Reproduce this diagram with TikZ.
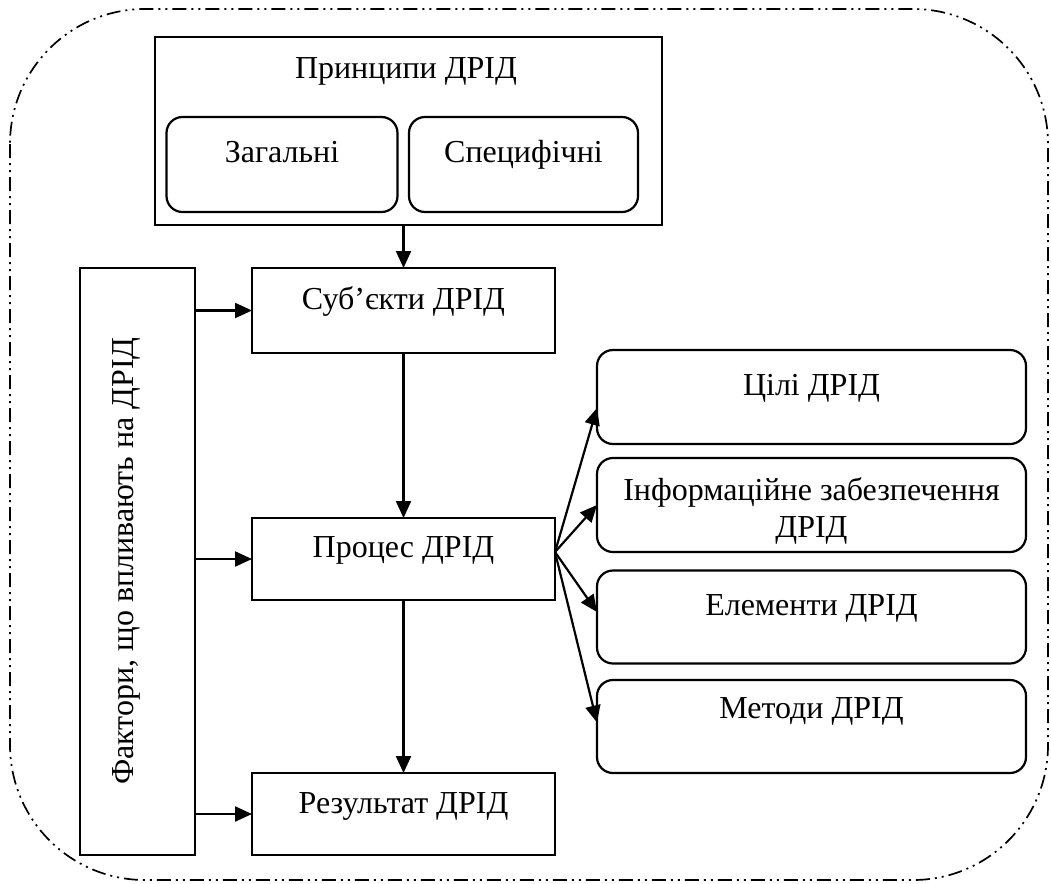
\documentclass[tikz,border=0pt]{standalone}
\usepackage{fontspec}
\setmainfont{Liberation Serif}
\usetikzlibrary{arrows.meta,calc}
\begin{document}
\begin{tikzpicture}[x=1pt,y=-1pt,
  line width=2.2pt,
  font=\fontsize{32}{37}\selectfont,
  box/.style={draw, rectangle, inner sep=0pt, outer sep=0pt},
  rbox/.style={draw, rectangle, rounded corners=16pt, inner sep=0pt, outer sep=0pt},
  lbl/.style={inner sep=0pt, anchor=base},
  arr/.style={-{Triangle[length=17pt,width=15pt]}},
  frame/.style={line width=1.7pt, rounded corners=135pt,
    dash pattern=on 14pt off 5pt on 2pt off 5pt on 2pt off 5pt}]
\useasboundingbox (0,0) rectangle (1051,883);

% outer dash-dot-dot frame
\draw[frame] (10,9) rectangle (1048,880);

% principles block
\node[box, minimum width=507, minimum height=188] (princ) at (408.5,131) {};
\node[lbl] (princT) at (406,78) {Принципи ДРІД};
\node[rbox, minimum width=231, minimum height=95] (gen) at (282,164.5) {};
\node[lbl] at (282,162) {Загальні};
\node[rbox, minimum width=229, minimum height=95] (spec) at (523.5,164.5) {};
\node[lbl] at (523.5,162) {Специфічні};

% factors column
\node[box, minimum width=115, minimum height=587] (fact) at (137.5,561.5) {};
\node[lbl, rotate=90] at (133,561) {Фактори, що впливають на ДРІД};

% main chain
\node[box, minimum width=303, minimum height=85] (subj) at (403.5,310.5) {};
\node[lbl] at (403.5,309) {Суб’єкти ДРІД};
\node[box, minimum width=303, minimum height=82] (proc) at (403.5,559) {};
\node[lbl] at (403.5,557) {Процес ДРІД};
\node[box, minimum width=303, minimum height=82] (res) at (403.5,814) {};
\node[lbl] at (403.5,813) {Результат ДРІД};

% components of the process
\node[rbox, minimum width=429, minimum height=94] (goal) at (811.5,397) {};
\node[lbl] at (811.5,395) {Цілі ДРІД};
\node[rbox, minimum width=429, minimum height=94] (info) at (811.5,505) {};
\node[lbl] at (811.5,500) {Інформаційне забезпечення};
\node[lbl] at (811.5,537) {ДРІД};
\node[rbox, minimum width=429, minimum height=93] (elem) at (811.5,617) {};
\node[lbl] at (811.5,615) {Елементи ДРІД};
\node[rbox, minimum width=429, minimum height=93] (meth) at (811.5,726.5) {};
\node[lbl] at (811.5,718) {Методи ДРІД};

% connectors
\draw[arr] (subj.north |- princ.south) -- (subj.north);
\draw[arr] (subj.south) -- (proc.north);
\draw[arr] (proc.south) -- (res.north);
\draw[arr] (fact.east |- subj.west) -- (subj.west);
\draw[arr] (fact.east |- proc.west) -- (proc.west);
\draw[arr] (fact.east |- res.west) -- (res.west);

\coordinate (fan) at ([yshift=7pt]proc.east);
\draw[arr] (fan) -- ([yshift=-11pt]goal.west);
\draw[arr] (fan) -- ([yshift=0pt]info.west);
\draw[arr] (fan) -- ([yshift=5pt]elem.west);
\draw[arr] (fan) -- ([yshift=4pt]meth.west);
\end{tikzpicture}
\end{document}
